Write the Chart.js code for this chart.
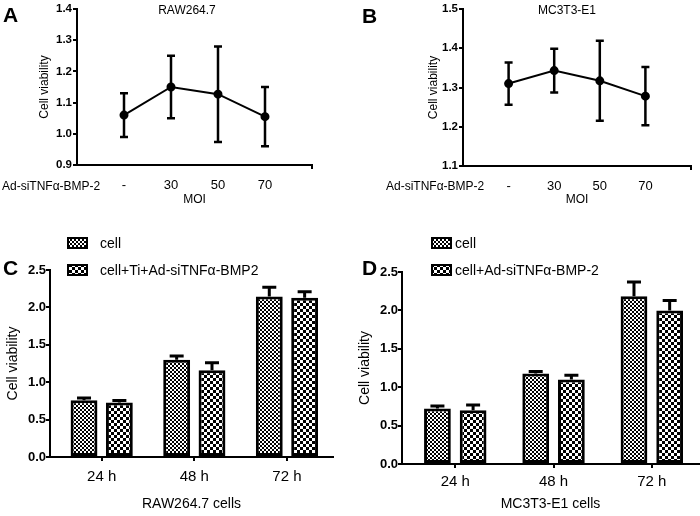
<!DOCTYPE html>
<html>
<head>
<meta charset="utf-8">
<script src="https://cdn.jsdelivr.net/npm/chart.js@4.4.1/dist/chart.umd.min.js"></script>
<style>
  body { margin: 0; background: #fff; width: 700px; height: 516px; position: relative; overflow: hidden;
         font-family: "Liberation Sans", Arial, sans-serif; color: #000; }
  .panel { position: absolute; }
  .txt { position: absolute; white-space: nowrap; line-height: 1; }
  .letter { font-size: 21px; font-weight: bold; }
</style>
</head>
<body>
<div class="panel" style="left:0;top:0;width:350px;height:225px"><canvas id="chartA"></canvas></div>
<div class="panel" style="left:350px;top:0;width:350px;height:225px"><canvas id="chartB"></canvas></div>
<div class="panel" style="left:0;top:225px;width:350px;height:291px"><canvas id="chartC"></canvas></div>
<div class="panel" style="left:350px;top:225px;width:350px;height:291px"><canvas id="chartD"></canvas></div>

<div class="txt letter" style="left:3px;top:4px">A</div>
<div class="txt letter" style="left:362px;top:5px">B</div>
<div class="txt letter" style="left:3px;top:257px">C</div>
<div class="txt letter" style="left:362px;top:257px">D</div>
<div class="txt" style="left:187px;top:4px;font-size:12px;transform:translateX(-50%)">RAW264.7</div>
<div class="txt" style="left:567px;top:4px;font-size:12px;transform:translateX(-50%)">MC3T3-E1</div>
<div class="txt" style="left:2px;top:180px;font-size:12px">Ad-siTNFα-BMP-2</div>
<div class="txt" style="left:386px;top:180px;font-size:12px">Ad-siTNFα-BMP-2</div>

<script>
// panel A / B: viability vs MOI
const moiLabels = ['-', '30', '50', '70'];
const rawMoiMean = [1.06, 1.15, 1.127, 1.055];
const rawMoiErr = [0.07, 0.10, 0.153, 0.095];
const mcMoiMean = [1.31, 1.343, 1.317, 1.278];
const mcMoiErr = [0.054, 0.056, 0.102, 0.074];

// panel C / D: viability over time
const timeLabels = ['24 h', '48 h', '72 h'];
const rawCell = [0.76, 1.30, 2.145];
const rawCellErr = [0.03, 0.05, 0.125];
const rawTi = [0.73, 1.16, 2.128];
const rawTiErr = [0.025, 0.10, 0.08];
const mcCell = [0.724, 1.18, 2.185];
const mcCellErr = [0.03, 0.025, 0.185];
const mcAd = [0.70, 1.10, 2.0];
const mcAdErr = [0.067, 0.057, 0.13];

const FONT = '"Liberation Sans", Arial, sans-serif';
Chart.defaults.font.family = FONT;
Chart.defaults.color = '#000';
Chart.defaults.animation = false;

const errorBars = {
  id: 'errorBars',
  afterDatasetsDraw(chart, args, opts) {
    const ctx = chart.ctx;
    const y = chart.scales.y;
    chart.data.datasets.forEach((ds, di) => {
      if (!ds.errors) return;
      chart.getDatasetMeta(di).data.forEach((el, i) => {
        const v = ds.data[i].y;
        const e = ds.errors[i];
        const top = y.getPixelForValue(v + e);
        const bot = opts.upperOnly ? el.y : y.getPixelForValue(v - e);
        const h = opts.cap / 2;
        ctx.save();
        ctx.strokeStyle = '#000';
        ctx.lineWidth = opts.width;
        ctx.beginPath();
        ctx.moveTo(el.x, top);
        ctx.lineTo(el.x, bot);
        ctx.moveTo(el.x - h, top);
        ctx.lineTo(el.x + h, top);
        if (!opts.upperOnly) {
          ctx.moveTo(el.x - h, bot);
          ctx.lineTo(el.x + h, bot);
        }
        ctx.stroke();
        ctx.restore();
      });
    });
  }
};

// legend drawn as a vertical list, like the figure
const boxLegend = {
  id: 'boxLegend',
  afterDraw(chart, args, opts) {
    const ctx = chart.ctx;
    chart.data.datasets.forEach((ds, i) => {
      const y = opts.y + i * opts.gap;
      ctx.save();
      ctx.fillStyle = ds.backgroundColor;
      ctx.fillRect(opts.x, y - 5, 19, 10);
      ctx.lineWidth = 2;
      ctx.strokeStyle = '#000';
      ctx.strokeRect(opts.x, y - 5, 19, 10);
      ctx.fillStyle = '#000';
      ctx.font = '14px ' + FONT;
      ctx.textBaseline = 'middle';
      ctx.fillText(ds.label, opts.textX, y + 1);
      ctx.restore();
    });
  }
};

function checker(ctx, size) {
  const c = document.createElement('canvas');
  c.width = c.height = size * 2;
  const g = c.getContext('2d');
  g.fillStyle = '#fff';
  g.fillRect(0, 0, size * 2, size * 2);
  g.fillStyle = '#000';
  g.fillRect(0, 0, size, size);
  g.fillRect(size, size, size, size);
  return ctx.createPattern(c, 'repeat');
}

function lineChart(id, means, errs, yMin, yMax, yWidth, xHeight, pad, yTitlePad) {
  new Chart(document.getElementById(id), {
    type: 'line',
    data: {
      datasets: [{
        data: moiLabels.map((_, i) => ({ x: i + 1, y: means[i] })),
        errors: errs,
        borderColor: '#000',
        borderWidth: 2,
        backgroundColor: '#000',
        pointRadius: 3.5,
        pointBackgroundColor: '#000',
        tension: 0
      }]
    },
    options: {
      responsive: true,
      maintainAspectRatio: false,
      layout: { padding: pad },
      plugins: {
        legend: { display: false },
        tooltip: { enabled: false },
        errorBars: { cap: 8, width: 2.5, upperOnly: false }
      },
      scales: {
        x: {
          type: 'linear', min: 0, max: 5, offset: false,
          afterBuildTicks: s => { s.ticks = [1, 2, 3, 4, 5].map(v => ({ value: v })); },
          afterFit: s => { s.height = xHeight; },
          ticks: { callback: v => moiLabels[v - 1] || '', padding: 9, font: { size: 13 }, maxRotation: 0, autoSkip: false },
          grid: { offset: false, drawOnChartArea: false, tickLength: 4, lineWidth: 2,
                  color: c => (c.tick && c.tick.value === 5) ? '#000' : 'rgba(0,0,0,0)' },
          border: { color: '#000', width: 2 },
          title: { display: true, text: 'MOI', font: { size: 12 }, padding: { top: 0, bottom: 18 } }
        },
        y: {
          min: yMin, max: yMax,
          afterFit: s => { s.width = yWidth; },
          ticks: { stepSize: 0.1, callback: v => v.toFixed(1), font: { size: 11.5, weight: 'bold' }, padding: 1 },
          grid: { drawOnChartArea: false, tickLength: 4, lineWidth: 2, color: '#000' },
          border: { color: '#000', width: 2 },
          title: { display: true, text: 'Cell viability', font: { size: 12 }, padding: { top: yTitlePad, bottom: 0 } }
        }
      }
    },
    plugins: [errorBars]
  });
}

function barChart(id, names, vals, errs, xMin, xMax, yWidth, xHeight, pad, cat, bar, tickPad, xTitle, yTitlePad, legend) {
  const canvas = document.getElementById(id);
  const ctx = canvas.getContext('2d');
  const fills = [checker(ctx, 2), checker(ctx, 3)];
  new Chart(canvas, {
    type: 'bar',
    data: {
      datasets: names.map((name, k) => ({
        label: name,
        data: timeLabels.map((_, i) => ({ x: i + 1, y: vals[k][i] })),
        errors: errs[k],
        backgroundColor: fills[k],
        borderColor: '#000',
        borderWidth: 3,
        borderSkipped: false,
        categoryPercentage: cat,
        barPercentage: bar
      }))
    },
    options: {
      responsive: true,
      maintainAspectRatio: false,
      layout: { padding: pad },
      plugins: {
        legend: { display: false },
        tooltip: { enabled: false },
        errorBars: { cap: 14, width: 3, upperOnly: true },
        boxLegend: legend
      },
      scales: {
        x: {
          type: 'linear', min: xMin, max: xMax, offset: false,
          afterBuildTicks: s => { s.ticks = [1, 2, 3].map(v => ({ value: v })); },
          afterFit: s => { s.height = xHeight; },
          ticks: { callback: v => timeLabels[v - 1] || '', padding: tickPad, font: { size: 15 }, maxRotation: 0, autoSkip: false },
          grid: { offset: false, drawOnChartArea: false, tickLength: 4, lineWidth: 2, color: '#000' },
          border: { color: '#000', width: 2 },
          title: { display: true, text: xTitle, font: { size: 14 }, padding: { top: 0, bottom: 3 } }
        },
        y: {
          min: 0, max: 2.5,
          afterFit: s => { s.width = yWidth; },
          ticks: { stepSize: 0.5, callback: v => v.toFixed(1), font: { size: 13, weight: 'bold' }, padding: 0 },
          grid: { drawOnChartArea: false, tickLength: 4, lineWidth: 2, color: '#000' },
          border: { color: '#000', width: 2 },
          title: { display: true, text: 'Cell viability', font: { size: 14 }, padding: { top: yTitlePad, bottom: 0 } }
        }
      }
    },
    plugins: [errorBars, boxLegend]
  });
}

lineChart('chartA', rawMoiMean, rawMoiErr, 0.9, 1.4, 77, 60, { left: 0, top: 9, right: 38, bottom: 0 }, 37);
lineChart('chartB', mcMoiMean, mcMoiErr, 1.1, 1.5, 113, 59, { left: 0, top: 9, right: 2, bottom: 0 }, 76);

barChart('chartC', ['cell', 'cell+Ti+Ad-siTNFα-BMP2'], [rawCell, rawTi], [rawCellErr, rawTiErr],
  0.442, 3.497, 50, 59, { left: 0, top: 45, right: 17, bottom: 0 }, 0.763, 0.76, 7, 'RAW264.7 cells', 5,
  { x: 68, y: 18, gap: 27, textX: 100 });
barChart('chartD', ['cell', 'cell+Ad-siTNFα-BMP-2'], [mcCell, mcAd], [mcCellErr, mcAdErr],
  0.458, 3.48, 52, 52, { left: 0, top: 47, right: 1, bottom: 0 }, 0.726, 0.75, 5, 'MC3T3-E1 cells', 7,
  { x: 82, y: 18, gap: 27, textX: 105 });
</script>
</body>
</html>
